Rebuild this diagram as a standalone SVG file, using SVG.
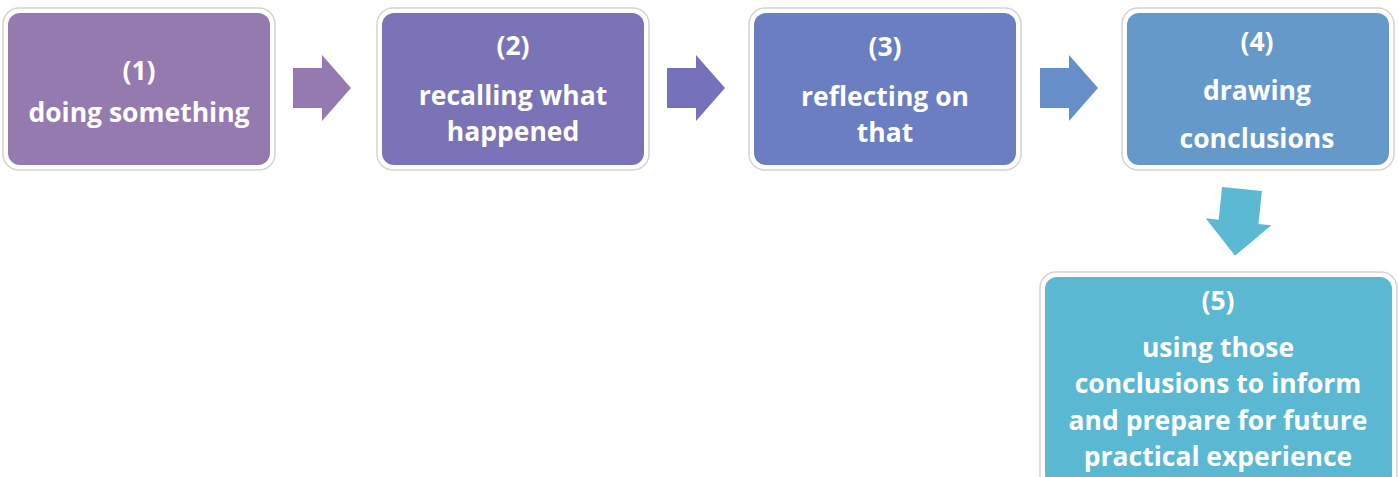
<svg xmlns="http://www.w3.org/2000/svg" width="1398" height="477" viewBox="0 0 1398 477">
  <style>
    .frame { fill: #ffffff; stroke: #d4d4d4; stroke-width: 1.5; }
    .lbl { font-family: "Open Sans", "Noto Sans", "DejaVu Sans", sans-serif; font-weight: bold; font-size: 26.5px; fill: #ffffff; text-anchor: middle; }
  </style>
  <defs>
    <polygon id="rarrow" points="0,-20 29,-20 29,-33 58,0 29,33 29,20 0,20"/>
  </defs>
  <rect width="1398" height="477" fill="#ffffff"/>

  <g id="connectors">
    <use href="#rarrow" x="293" y="88" fill="#957AB2"/>
    <use href="#rarrow" x="667" y="88" fill="#7571BA"/>
    <use href="#rarrow" x="1040" y="88" fill="#668FCA"/>
    <polygon transform="translate(1242,189) rotate(6)" points="-20,0 20,0 20,33 33,33 0,67 -33,33 -20,33" fill="#5BB9D3"/>
  </g>

  <g id="node1">
    <rect class="frame" x="3" y="8" width="272" height="162" rx="16"/>
    <rect x="8" y="13" width="262" height="152" rx="12" fill="#957AB0"/>
    <text class="lbl" x="139" y="80">(1)</text>
    <text class="lbl" x="139" y="122">doing something</text>
  </g>

  <g id="node2">
    <rect class="frame" x="377" y="8" width="272" height="162" rx="16"/>
    <rect x="382" y="13" width="262" height="152" rx="12" fill="#7B73B8"/>
    <text class="lbl" x="513" y="55">(2)</text>
    <text class="lbl" x="513" y="105">recalling what</text>
    <text class="lbl" x="513" y="141">happened</text>
  </g>

  <g id="node3">
    <rect class="frame" x="749" y="8" width="272" height="162" rx="16"/>
    <rect x="754" y="13" width="262" height="152" rx="12" fill="#6A7EC1"/>
    <text class="lbl" x="885" y="56">(3)</text>
    <text class="lbl" x="885" y="106">reflecting on</text>
    <text class="lbl" x="885" y="142">that</text>
  </g>

  <g id="node4">
    <rect class="frame" x="1122" y="8" width="272" height="162" rx="16"/>
    <rect x="1127" y="13" width="262" height="152" rx="12" fill="#6499C9"/>
    <text class="lbl" x="1257" y="51">(4)</text>
    <text class="lbl" x="1257" y="100">drawing</text>
    <text class="lbl" x="1257" y="148">conclusions</text>
  </g>

  <g id="node5">
    <rect class="frame" x="1040" y="272" width="357" height="220" rx="16"/>
    <rect x="1045" y="277" width="347" height="210" rx="12" fill="#5BB8D2"/>
    <text class="lbl" x="1218" y="310">(5)</text>
    <text class="lbl" x="1218" y="357">using those</text>
    <text class="lbl" x="1218" y="393">conclusions to inform</text>
    <text class="lbl" x="1218" y="430">and prepare for future</text>
    <text class="lbl" x="1218" y="466">practical experience</text>
  </g>
</svg>
